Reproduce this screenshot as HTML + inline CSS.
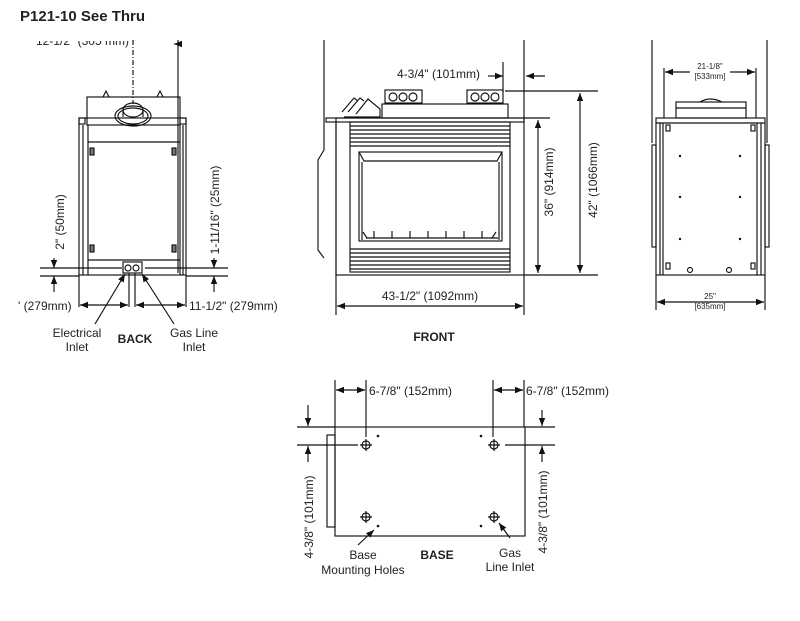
<!DOCTYPE html>
<html><head><meta charset="utf-8"><style>
html,body{margin:0;padding:0;background:#fff;}
svg{display:block;}
text{font-family:"Liberation Sans",Arial,sans-serif;fill:#222;}
</style></head><body>
<svg width="800" height="621" viewBox="0 0 800 621" xmlns="http://www.w3.org/2000/svg">
<defs>
<marker id="a" viewBox="0 0 10 10" refX="10" refY="5" markerWidth="8" markerHeight="8" orient="auto-start-reverse" markerUnits="userSpaceOnUse"><path d="M0,1 L10,5 L0,9 z" fill="#111"/></marker>
<clipPath id="c1"><rect x="0" y="41" width="200" height="20"/></clipPath>
</defs>
<rect width="800" height="621" fill="#fff"/>
<text x="20" y="21" font-size="15" font-weight="bold">P121-10 See Thru</text>

<g stroke="#111" stroke-width="1.15" fill="none">
<!-- BACK VIEW -->
<line x1="178" y1="40" x2="178" y2="273"/>
<line x1="133" y1="40" x2="133" y2="104" stroke-dasharray="5,2,1,2"/>
<line x1="174" y1="44" x2="178" y2="44" marker-start="url(#a)"/>
<rect x="87" y="97" width="93" height="28"/>
<path d="M103,97 l3,-6 l3,6 M157,97 l3,-6 l3,6"/>
<ellipse cx="133" cy="116" rx="18" ry="10"/>
<ellipse cx="133" cy="116" rx="15" ry="8"/>
<ellipse cx="133" cy="110" rx="10" ry="7"/>
<path d="M123,110 v7 M143,110 v7"/>
<rect x="79" y="118" width="107" height="157"/>
<rect x="79" y="118" width="6" height="6"/>
<rect x="180" y="118" width="6" height="6"/>
<line x1="83" y1="125" x2="83" y2="275"/>
<line x1="88" y1="125" x2="88" y2="275"/>
<line x1="180" y1="125" x2="180" y2="275"/>
<line x1="183" y1="125" x2="183" y2="275"/>
<line x1="88" y1="142" x2="180" y2="142"/>
<line x1="88" y1="260" x2="180" y2="260"/>
<rect x="90" y="148" width="4" height="7" fill="#777"/>
<rect x="172" y="148" width="4" height="7" fill="#777"/>
<rect x="90" y="245" width="4" height="7" fill="#777"/>
<rect x="172" y="245" width="4" height="7" fill="#777"/>
<rect x="123" y="262" width="19" height="11"/>
<circle cx="128" cy="268" r="3"/><circle cx="136" cy="268" r="3"/>
<line x1="40" y1="268" x2="122" y2="268"/>
<line x1="145" y1="268" x2="228" y2="268"/>
<line x1="40" y1="276" x2="79" y2="276"/>
<line x1="186" y1="276" x2="228" y2="276"/>
<line x1="54" y1="258" x2="54" y2="268" marker-end="url(#a)"/>
<line x1="54" y1="292" x2="54" y2="276" marker-end="url(#a)"/>
<line x1="214" y1="258" x2="214" y2="268" marker-end="url(#a)"/>
<line x1="214" y1="292" x2="214" y2="276" marker-end="url(#a)"/>
<line x1="79" y1="275" x2="79" y2="307"/>
<line x1="186" y1="275" x2="186" y2="307"/>
<line x1="129" y1="273" x2="129" y2="307"/>
<line x1="135" y1="273" x2="135" y2="307"/>
<line x1="80" y1="305" x2="128" y2="305" marker-start="url(#a)" marker-end="url(#a)"/>
<line x1="136" y1="305" x2="185" y2="305" marker-start="url(#a)" marker-end="url(#a)"/>
<line x1="95" y1="324" x2="125" y2="274" marker-end="url(#a)"/>
<line x1="174" y1="324" x2="142" y2="274" marker-end="url(#a)"/>

<!-- FRONT VIEW -->
<path d="M324,40 V150 L318,160 V250 L324,258"/>
<line x1="524" y1="40" x2="524" y2="118"/>
<line x1="503" y1="62" x2="503" y2="92"/>
<line x1="488" y1="76" x2="503" y2="76" marker-end="url(#a)"/>
<line x1="545" y1="76" x2="526" y2="76" marker-end="url(#a)"/>
<rect x="385" y="90" width="37" height="13"/>
<circle cx="393" cy="97" r="4"/><circle cx="403" cy="97" r="4"/><circle cx="413" cy="97" r="4"/>
<rect x="467" y="90" width="36" height="13"/>
<circle cx="475" cy="97" r="4"/><circle cx="485" cy="97" r="4"/><circle cx="495" cy="97" r="4"/>
<rect x="382" y="104" width="126" height="14"/>
<path d="M342,112 l12,-14 l4,3 M348,112 l12,-14 l4,3 M356,114 l12,-15 l12,10 v8 h-36"/>
<rect x="326" y="118" width="198" height="4"/>
<rect x="336" y="118" width="188" height="157"/>
<rect x="350" y="122" width="160" height="150"/>
<line x1="336" y1="122" x2="336" y2="275"/>
<path d="M350,126 H510 M350,130 H510 M350,134 H510 M350,138 H510 M350,142 H510 M350,146 H510"/>
<path d="M350,249 H510 M350,253 H510 M350,257 H510 M350,261 H510 M350,265 H510 M350,269 H510"/>
<rect x="359" y="152" width="143" height="89"/>
<path d="M359,152 l5,9 h133 l5,-9 M362,240 V162 M499,240 V162"/>
<path d="M367,238 l-4,-6 M366,238 h132 M492,238 l4,-6"/>
<path d="M374,238 v-7 M392,238 v-7 M410,238 v-7 M428,238 v-7 M446,238 v-7 M464,238 v-7 M482,238 v-7"/>
<line x1="524" y1="118" x2="550" y2="118"/>
<line x1="505" y1="91" x2="598" y2="91"/>
<line x1="524" y1="275" x2="598" y2="275"/>
<line x1="538" y1="120" x2="538" y2="273" marker-start="url(#a)" marker-end="url(#a)"/>
<line x1="580" y1="93" x2="580" y2="273" marker-start="url(#a)" marker-end="url(#a)"/>
<line x1="336" y1="275" x2="336" y2="315"/>
<line x1="524" y1="275" x2="524" y2="315"/>
<line x1="337" y1="306" x2="523" y2="306" marker-start="url(#a)" marker-end="url(#a)"/>

<!-- SIDE VIEW -->
<line x1="652" y1="40" x2="652" y2="143"/>
<line x1="767" y1="40" x2="767" y2="143"/>
<line x1="664" y1="68" x2="664" y2="118"/>
<line x1="756" y1="68" x2="756" y2="118"/>
<line x1="665" y1="72" x2="690" y2="72" marker-start="url(#a)"/>
<line x1="730" y1="72" x2="755" y2="72" marker-end="url(#a)"/>
<rect x="676" y="102" width="70" height="16"/>
<path d="M676,108 H746 M700,102 q10,-6 22,0"/>
<rect x="656" y="118" width="109" height="157"/>
<line x1="656" y1="123" x2="765" y2="123"/>
<line x1="663" y1="123" x2="663" y2="275"/>
<line x1="757" y1="123" x2="757" y2="275"/>
<line x1="660" y1="123" x2="660" y2="275"/>
<line x1="761" y1="123" x2="761" y2="275"/>
<rect x="652" y="145" width="4" height="102"/>
<rect x="765" y="145" width="4" height="102"/>
<rect x="666" y="125" width="4" height="6"/><rect x="751" y="125" width="4" height="6"/>
<rect x="666" y="263" width="4" height="6"/><rect x="751" y="263" width="4" height="6"/>
<circle cx="690" cy="270" r="2.5"/><circle cx="729" cy="270" r="2.5"/>
<line x1="656" y1="275" x2="656" y2="310"/>
<line x1="765" y1="275" x2="765" y2="310"/>
<line x1="657" y1="302" x2="764" y2="302" marker-start="url(#a)" marker-end="url(#a)"/>

<!-- BASE VIEW -->
<rect x="335" y="427" width="190" height="109"/>
<rect x="327" y="435" width="8" height="92"/>
<line x1="297" y1="427" x2="335" y2="427"/>
<line x1="525" y1="427" x2="555" y2="427"/>
<line x1="297" y1="445" x2="358" y2="445"/>
<line x1="505" y1="445" x2="555" y2="445"/>
<line x1="335" y1="380" x2="335" y2="427"/>
<line x1="366" y1="380" x2="366" y2="437"/>
<line x1="493" y1="380" x2="493" y2="437"/>
<line x1="524" y1="380" x2="524" y2="427"/>
<line x1="336" y1="390" x2="365" y2="390" marker-start="url(#a)" marker-end="url(#a)"/>
<line x1="494" y1="390" x2="523" y2="390" marker-start="url(#a)" marker-end="url(#a)"/>
<line x1="308" y1="405" x2="308" y2="426" marker-end="url(#a)"/>
<line x1="308" y1="462" x2="308" y2="446" marker-end="url(#a)"/>
<line x1="542" y1="410" x2="542" y2="426" marker-end="url(#a)"/>
<line x1="542" y1="462" x2="542" y2="446" marker-end="url(#a)"/>
<circle cx="366" cy="445" r="4"/><path d="M360,445 h12 M366,439 v12"/>
<circle cx="494" cy="445" r="4"/><path d="M488,445 h12 M494,439 v12"/>
<circle cx="366" cy="517" r="4"/><path d="M360,517 h12 M366,511 v12"/>
<circle cx="494" cy="517" r="4"/><path d="M488,517 h12 M494,511 v12"/>
<line x1="358" y1="545" x2="374" y2="530" marker-end="url(#a)"/>
<line x1="510" y1="538" x2="499" y2="523" marker-end="url(#a)"/>
</g>
<g fill="#111">
<circle cx="378" cy="436" r="1.3"/><circle cx="481" cy="436" r="1.3"/>
<circle cx="378" cy="526" r="1.3"/><circle cx="481" cy="526" r="1.3"/>
<circle cx="680" cy="156" r="1.2"/><circle cx="740" cy="156" r="1.2"/>
<circle cx="680" cy="197" r="1.2"/><circle cx="740" cy="197" r="1.2"/>
<circle cx="680" cy="239" r="1.2"/><circle cx="740" cy="239" r="1.2"/>
</g>

<!-- text -->
<g font-size="12">
<text x="36" y="45" clip-path="url(#c1)">12-1/2" (305 mm)</text>
<text transform="translate(64,222) rotate(-90)" text-anchor="middle">2" (50mm)</text>
<text transform="translate(219,210) rotate(-90)" text-anchor="middle">1-11/16" (25mm)</text>
<text x="18" y="310">' (279mm)</text>
<text x="189" y="310">11-1/2" (279mm)</text>
<text x="77" y="337" text-anchor="middle">Electrical</text>
<text x="77" y="351" text-anchor="middle">Inlet</text>
<text x="135" y="343" text-anchor="middle" font-weight="bold">BACK</text>
<text x="194" y="337" text-anchor="middle">Gas Line</text>
<text x="194" y="351" text-anchor="middle">Inlet</text>

<text x="397" y="78">4-3/4" (101mm)</text>
<text transform="translate(553,182) rotate(-90)" text-anchor="middle">36" (914mm)</text>
<text transform="translate(597,180) rotate(-90)" text-anchor="middle">42" (1066mm)</text>
<text x="430" y="300" text-anchor="middle">43-1/2" (1092mm)</text>
<text x="434" y="341" text-anchor="middle" font-weight="bold">FRONT</text>

<text x="710" y="69" text-anchor="middle" font-size="8">21-1/8"</text>
<text x="710" y="79" text-anchor="middle" font-size="8">[533mm]</text>
<text x="710" y="299" text-anchor="middle" font-size="8">25"</text>
<text x="710" y="309" text-anchor="middle" font-size="8">[635mm]</text>

<text x="369" y="395">6-7/8" (152mm)</text>
<text x="526" y="395">6-7/8" (152mm)</text>
<text transform="translate(313,517) rotate(-90)" text-anchor="middle">4-3/8" (101mm)</text>
<text transform="translate(547,512) rotate(-90)" text-anchor="middle">4-3/8" (101mm)</text>
<text x="363" y="559" text-anchor="middle">Base</text>
<text x="363" y="574" text-anchor="middle">Mounting Holes</text>
<text x="437" y="559" text-anchor="middle" font-weight="bold">BASE</text>
<text x="510" y="557" text-anchor="middle">Gas</text>
<text x="510" y="571" text-anchor="middle">Line Inlet</text>
</g>
</svg>
</body></html>
